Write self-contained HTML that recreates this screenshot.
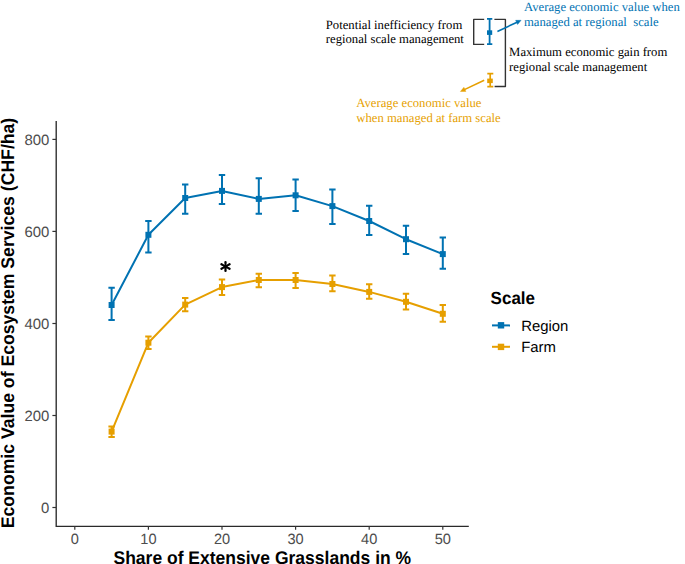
<!DOCTYPE html>
<html><head><meta charset="utf-8"><style>
html,body{margin:0;padding:0;background:#fff;}
svg{display:block;}
text{text-rendering:geometricPrecision;}
.tk{font-family:"Liberation Sans",sans-serif;font-size:14.5px;fill:#4D4D4D;}
.tt{font-family:"Liberation Sans",sans-serif;font-size:17.4px;font-weight:bold;fill:#000;}
.sf{font-family:"Liberation Serif",serif;font-size:12.7px;}
.lg{font-family:"Liberation Sans",sans-serif;font-size:14.9px;fill:#000;}
</style></head><body>
<svg width="685" height="564" viewBox="0 0 685 564">
<rect width="685" height="564" fill="#fff"/>
<!-- axes -->
<path d="M56.2 121V526.3H468.8" fill="none" stroke="#2a2a2a" stroke-width="1.35"/>
<line x1="52.4" y1="139.4" x2="56" y2="139.4" stroke="#333" stroke-width="1.2"/>
<text class="tk" text-anchor="end" transform="translate(49.4 145.0) scale(1 1.0)" style="font-size:14.9px">800</text>
<line x1="52.4" y1="231.4" x2="56" y2="231.4" stroke="#333" stroke-width="1.2"/>
<text class="tk" text-anchor="end" transform="translate(49.4 237.0) scale(1 1.0)" style="font-size:14.9px">600</text>
<line x1="52.4" y1="323.5" x2="56" y2="323.5" stroke="#333" stroke-width="1.2"/>
<text class="tk" text-anchor="end" transform="translate(49.4 329.1) scale(1 1.0)" style="font-size:14.9px">400</text>
<line x1="52.4" y1="415.5" x2="56" y2="415.5" stroke="#333" stroke-width="1.2"/>
<text class="tk" text-anchor="end" transform="translate(49.4 421.1) scale(1 1.0)" style="font-size:14.9px">200</text>
<line x1="52.4" y1="507.5" x2="56" y2="507.5" stroke="#333" stroke-width="1.2"/>
<text class="tk" text-anchor="end" transform="translate(49.4 513.1) scale(1 1.0)" style="font-size:14.9px">0</text>
<line x1="74.8" y1="526" x2="74.8" y2="529.7" stroke="#333" stroke-width="1.2"/>
<text class="tk" text-anchor="middle" transform="translate(74.8 543.7) scale(1 1.02)" style="font-size:14.6px">0</text>
<line x1="148.4" y1="526" x2="148.4" y2="529.7" stroke="#333" stroke-width="1.2"/>
<text class="tk" text-anchor="middle" transform="translate(148.4 543.7) scale(1 1.02)" style="font-size:14.6px">10</text>
<line x1="222.0" y1="526" x2="222.0" y2="529.7" stroke="#333" stroke-width="1.2"/>
<text class="tk" text-anchor="middle" transform="translate(222.0 543.7) scale(1 1.02)" style="font-size:14.6px">20</text>
<line x1="295.6" y1="526" x2="295.6" y2="529.7" stroke="#333" stroke-width="1.2"/>
<text class="tk" text-anchor="middle" transform="translate(295.6 543.7) scale(1 1.02)" style="font-size:14.6px">30</text>
<line x1="369.2" y1="526" x2="369.2" y2="529.7" stroke="#333" stroke-width="1.2"/>
<text class="tk" text-anchor="middle" transform="translate(369.2 543.7) scale(1 1.02)" style="font-size:14.6px">40</text>
<line x1="442.8" y1="526" x2="442.8" y2="529.7" stroke="#333" stroke-width="1.2"/>
<text class="tk" text-anchor="middle" transform="translate(442.8 543.7) scale(1 1.02)" style="font-size:14.6px">50</text>
<text class="tt" text-anchor="middle" transform="translate(262.3 563.5) scale(1 1.05)" style="font-size:17.5px">Share of Extensive Grasslands in %</text>
<text class="tt" text-anchor="middle" transform="translate(13.85 323.0) rotate(-90) scale(1 1.035)" style="font-size:17.64px">Economic Value of Ecosystem Services (CHF/ha)</text>
<polyline points="111.6,305.0 148.4,234.8 185.2,198.0 222.0,190.9 258.8,198.9 295.6,195.3 332.4,206.1 369.2,221.0 406.0,239.2 442.8,254.1" fill="none" stroke="#0072B2" stroke-width="2" stroke-linejoin="round"/>
<path d="M111.6 287.8V319.9M108.4 287.8H114.8M108.4 319.9H114.8" stroke="#0072B2" stroke-width="2" fill="none"/>
<rect x="108.6" y="302.0" width="6" height="6" fill="#0072B2"/>
<path d="M148.4 221V252.6M145.2 221H151.6M145.2 252.6H151.6" stroke="#0072B2" stroke-width="2" fill="none"/>
<rect x="145.4" y="231.8" width="6" height="6" fill="#0072B2"/>
<path d="M185.2 184.5V213.7M182.0 184.5H188.4M182.0 213.7H188.4" stroke="#0072B2" stroke-width="2" fill="none"/>
<rect x="182.2" y="195.0" width="6" height="6" fill="#0072B2"/>
<path d="M222.0 175.1V204.1M218.8 175.1H225.2M218.8 204.1H225.2" stroke="#0072B2" stroke-width="2" fill="none"/>
<rect x="219.0" y="187.9" width="6" height="6" fill="#0072B2"/>
<path d="M258.8 178.3V213.8M255.6 178.3H262.0M255.6 213.8H262.0" stroke="#0072B2" stroke-width="2" fill="none"/>
<rect x="255.8" y="195.9" width="6" height="6" fill="#0072B2"/>
<path d="M295.6 179.6V210.9M292.4 179.6H298.8M292.4 210.9H298.8" stroke="#0072B2" stroke-width="2" fill="none"/>
<rect x="292.6" y="192.3" width="6" height="6" fill="#0072B2"/>
<path d="M332.4 189.4V224M329.2 189.4H335.6M329.2 224H335.6" stroke="#0072B2" stroke-width="2" fill="none"/>
<rect x="329.4" y="203.1" width="6" height="6" fill="#0072B2"/>
<path d="M369.2 205.7V235.1M366.0 205.7H372.4M366.0 235.1H372.4" stroke="#0072B2" stroke-width="2" fill="none"/>
<rect x="366.2" y="218.0" width="6" height="6" fill="#0072B2"/>
<path d="M406.0 225.7V254.1M402.8 225.7H409.2M402.8 254.1H409.2" stroke="#0072B2" stroke-width="2" fill="none"/>
<rect x="403.0" y="236.2" width="6" height="6" fill="#0072B2"/>
<path d="M442.8 237.6V268.7M439.6 237.6H446.0M439.6 268.7H446.0" stroke="#0072B2" stroke-width="2" fill="none"/>
<rect x="439.8" y="251.1" width="6" height="6" fill="#0072B2"/>
<polyline points="111.6,431.6 148.4,342.7 185.2,304.6 222.0,287.1 258.8,280.0 295.6,280.0 332.4,284.0 369.2,291.9 406.0,301.8 442.8,313.8" fill="none" stroke="#E69F00" stroke-width="2" stroke-linejoin="round"/>
<path d="M111.6 426.6V437M108.4 426.6H114.8M108.4 437H114.8" stroke="#E69F00" stroke-width="2" fill="none"/>
<rect x="108.6" y="428.6" width="6" height="6" fill="#E69F00"/>
<path d="M148.4 336.5V348.9M145.2 336.5H151.6M145.2 348.9H151.6" stroke="#E69F00" stroke-width="2" fill="none"/>
<rect x="145.4" y="339.7" width="6" height="6" fill="#E69F00"/>
<path d="M185.2 298V311.3M182.0 298H188.4M182.0 311.3H188.4" stroke="#E69F00" stroke-width="2" fill="none"/>
<rect x="182.2" y="301.6" width="6" height="6" fill="#E69F00"/>
<path d="M222.0 279.5V295.1M218.8 279.5H225.2M218.8 295.1H225.2" stroke="#E69F00" stroke-width="2" fill="none"/>
<rect x="219.0" y="284.1" width="6" height="6" fill="#E69F00"/>
<path d="M258.8 273.8V287.2M255.6 273.8H262.0M255.6 287.2H262.0" stroke="#E69F00" stroke-width="2" fill="none"/>
<rect x="255.8" y="277.0" width="6" height="6" fill="#E69F00"/>
<path d="M295.6 273V287.9M292.4 273H298.8M292.4 287.9H298.8" stroke="#E69F00" stroke-width="2" fill="none"/>
<rect x="292.6" y="277.0" width="6" height="6" fill="#E69F00"/>
<path d="M332.4 275.5V291.3M329.2 275.5H335.6M329.2 291.3H335.6" stroke="#E69F00" stroke-width="2" fill="none"/>
<rect x="329.4" y="281.0" width="6" height="6" fill="#E69F00"/>
<path d="M369.2 284.2V298.8M366.0 284.2H372.4M366.0 298.8H372.4" stroke="#E69F00" stroke-width="2" fill="none"/>
<rect x="366.2" y="288.9" width="6" height="6" fill="#E69F00"/>
<path d="M406.0 293.8V309.4M402.8 293.8H409.2M402.8 309.4H409.2" stroke="#E69F00" stroke-width="2" fill="none"/>
<rect x="403.0" y="298.8" width="6" height="6" fill="#E69F00"/>
<path d="M442.8 305V321.8M439.6 305H446.0M439.6 321.8H446.0" stroke="#E69F00" stroke-width="2" fill="none"/>
<rect x="439.8" y="310.8" width="6" height="6" fill="#E69F00"/>
<g transform="translate(225.5 266.5)"><circle r="1.1" fill="#000"/><path fill="#000" d="M0.75 0.00L1.20 -4.20A1.2 1.2 0 0 0 -1.20 -4.20L-0.75 -0.00ZM-0.75 0.00L-1.20 4.20A1.2 1.2 0 0 0 1.20 4.20L0.75 -0.00ZM0.36 -0.66L-3.47 -3.30A1.2 1.2 0 0 0 -4.63 -1.20L-0.36 0.66ZM-0.36 0.66L3.47 3.30A1.2 1.2 0 0 0 4.63 1.20L0.36 -0.66ZM-0.36 -0.66L-4.63 1.20A1.2 1.2 0 0 0 -3.47 3.30L0.36 0.66ZM0.36 0.66L4.63 -1.20A1.2 1.2 0 0 0 3.47 -3.30L-0.36 -0.66Z"/></g>
<!-- legend -->
<text class="tt" transform="translate(490.6 303.8) scale(1 1.03)" style="font-size:17px">Scale</text>
<line x1="492" y1="325.4" x2="510" y2="325.4" stroke="#0072B2" stroke-width="2"/>
<rect x="497.8" y="322.1" width="6.4" height="6.4" fill="#0072B2"/>
<text class="lg" transform="translate(521.2 331.0) scale(1 1.0)">Region</text>
<line x1="492" y1="346.8" x2="510" y2="346.8" stroke="#E69F00" stroke-width="2"/>
<rect x="497.8" y="343.7" width="6.4" height="6.4" fill="#E69F00"/>
<text class="lg" transform="translate(521.2 352.1) scale(1 1.0)">Farm</text>
<!-- annotation -->
<path d="M484.2 19.4H473.7V44.4H484.2" fill="none" stroke="#333" stroke-width="1.4" stroke-linejoin="round"/>
<path d="M494.4 19.4H505.4V86.5H494.6" fill="none" stroke="#333" stroke-width="1.4" stroke-linejoin="round"/>
<path d="M489.6 18.9V44.1M487 18.9H492.3M487 44.1H492.3" stroke="#0072B2" stroke-width="1.8" fill="none"/>
<rect x="487" y="30.3" width="5.2" height="4.6" fill="#0072B2"/>
<path d="M490.2 73.6V86.7M487.3 73.6H493.3M487.3 86.7H493.3" stroke="#E69F00" stroke-width="1.7" fill="none"/>
<rect x="487.2" y="78.6" width="5.6" height="4.5" fill="#E69F00"/>
<line x1="497.4" y1="31.5" x2="517.09" y2="22.19" stroke="#0072B2" stroke-width="1.6"/>
<path d="M521.10 20.30L515.60 20.33L517.59 24.53Z" fill="#0072B2" stroke="#0072B2" stroke-width="0.4" stroke-linejoin="round"/>
<line x1="484.2" y1="80.3" x2="464.41" y2="89.62" stroke="#E69F00" stroke-width="1.6"/>
<path d="M460.40 91.50L465.90 91.48L463.92 87.27Z" fill="#E69F00" stroke="#E69F00" stroke-width="0.4" stroke-linejoin="round"/>
<g class="sf">
<text transform="translate(325.8 28.9) scale(1 1.0)" fill="#000">Potential inefficiency from</text>
<text transform="translate(325.8 42.9) scale(1 1.0)" fill="#000">regional scale management</text>
<text transform="translate(524.0 11.3) scale(1 1.0)" fill="#0072B2">Average economic value when</text>
<text transform="translate(524.0 26.2) scale(1 1.0)" fill="#0072B2">managed at regional&#160; scale</text>
<text transform="translate(509.1 56.1) scale(1 1.0)" fill="#000">Maximum economic gain from</text>
<text transform="translate(509.1 71.0) scale(1 1.0)" fill="#000">regional scale management</text>
<text transform="translate(356.3 106.8) scale(1 1.0)" fill="#E69F00">Average economic value</text>
<text transform="translate(356.3 121.7) scale(1 1.0)" fill="#E69F00">when managed at farm scale</text>
</g>
</svg>
</body></html>
